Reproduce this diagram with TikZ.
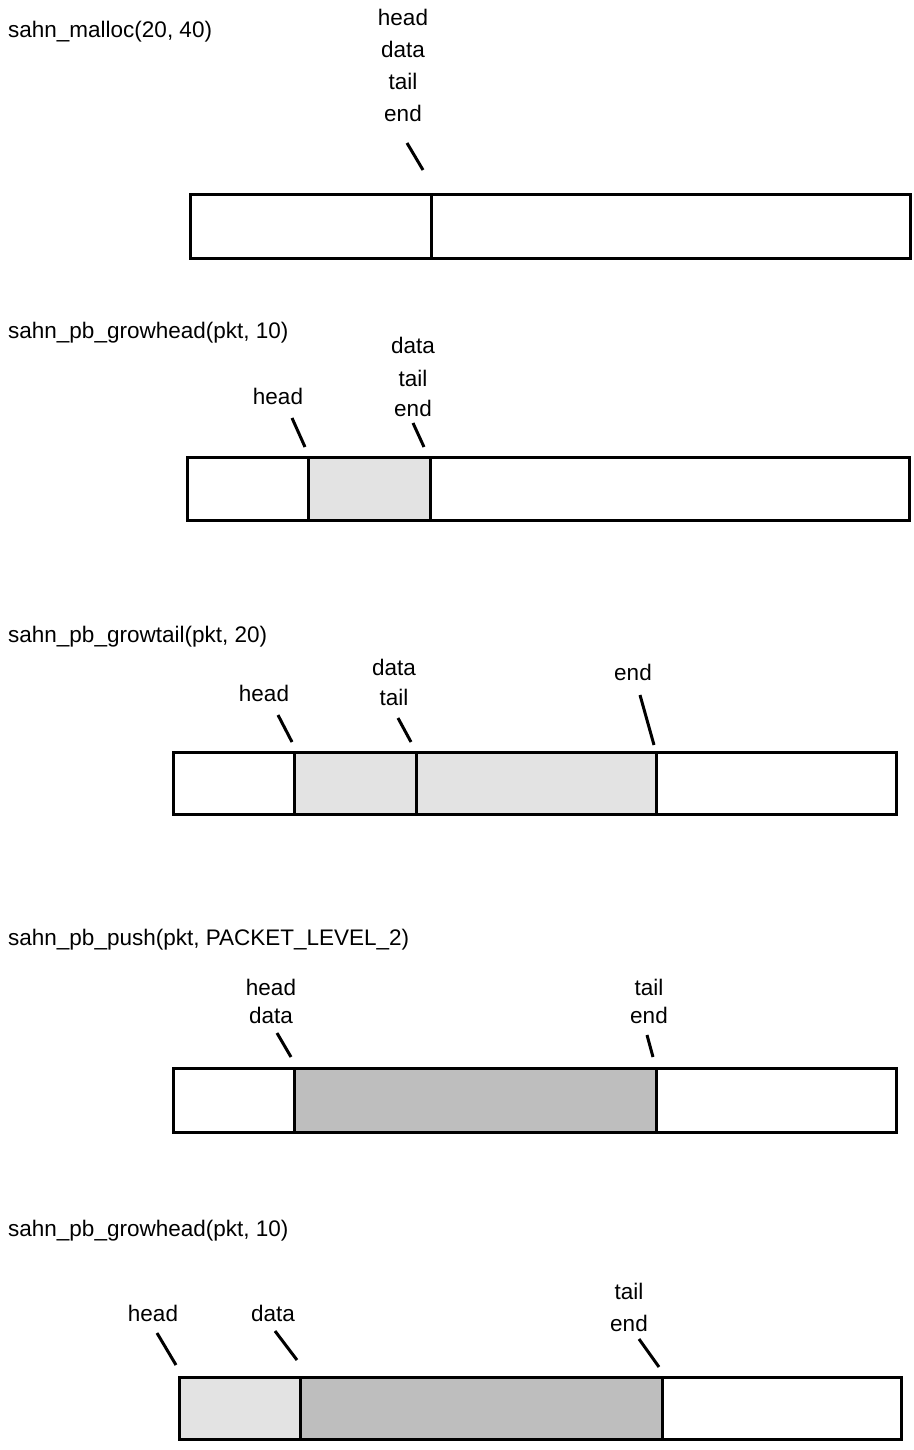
\documentclass[tikz,border=0pt]{standalone}
\usepackage{fontspec}
\setmainfont{Liberation Sans}
\usepackage{xcolor}
\usepackage{tikz}
\definecolor{lightfill}{HTML}{E3E3E3}
\definecolor{darkfill}{HTML}{BEBEBE}

\begin{document}
\begin{tikzpicture}[x=1pt,y=-1pt,
  seg/.style={draw=black, line width=3pt},
  tick/.style={line width=3pt},
  lbl/.style={anchor=base, inner sep=0pt, font=\fontsize{22.5}{27}\selectfont},
  title/.style={lbl, anchor=base west}]
\useasboundingbox (0,0) rectangle (913,1450);
% calls
\node[title] (t1) at (8,38) {sahn\_malloc(20, 40)};
\node[title] (t2) at (8,338) {sahn\_pb\_growhead(pkt, 10)};
\node[title] (t3) at (8,642) {sahn\_pb\_growtail(pkt, 20)};
\node[title] (t4) at (8,945) {sahn\_pb\_push(pkt, PACKET\_LEVEL\_2)};
\node[title] (t5) at (8,1236) {sahn\_pb\_growhead(pkt, 10)};
% buffers
\foreach \a/\b/\c/\d/\f in {
  190/195/431/258/white, 431/195/910/258/white,
  187/457/308/520/white, 308/457/430/520/lightfill, 430/457/909/520/white,
  173/752/294/814/white, 294/752/416/814/lightfill, 416/752/656/814/lightfill, 656/752/896/814/white,
  173/1068/294/1132/white, 294/1068/656/1132/darkfill, 656/1068/896/1132/white,
  179/1377/300/1439/lightfill, 300/1377/662/1439/darkfill, 662/1377/901/1439/white} {
  \draw[seg, fill=\f] (\a,\b) rectangle (\c,\d);
}
% pointer names
\foreach \n/\t/\x/\y in {
  ahead/head/403/26, adata/data/403/58, atail/tail/403/90, aend/end/403/122,
  bhead/head/278/404, bdata/data/413/353, btail/tail/413/386, bend/end/413/416,
  chead/head/264/701, cdata/data/394/675, ctail/tail/394/705, cend/end/633/680,
  dhead/head/271/995, ddata/data/271/1023, dtail/tail/649/995, dend/end/649/1023,
  ehead/head/153/1321, edata/data/273/1321, etail/tail/629/1299, eend/end/629/1331} {
  \node[lbl] (\n) at (\x,\y) {\t};
}
% ticks
\foreach \n/\a/\b/\c/\d in {
  ka/407/143/423/170,
  kb/292/418/305/447, kc/413/423/424/447,
  kd/278/715/292/742, ke/398/718/411/742, kf/640/695/654/745,
  kg/277/1033/291/1057, kh/647/1035/653/1057,
  ki/157/1333/176/1365, kj/275/1331/297/1360, kk/639/1339/659/1367} {
  \coordinate (\n1) at (\a,\b);
  \coordinate (\n2) at (\c,\d);
  \draw[tick] (\n1) -- (\n2);
}
\end{tikzpicture}
\end{document}
